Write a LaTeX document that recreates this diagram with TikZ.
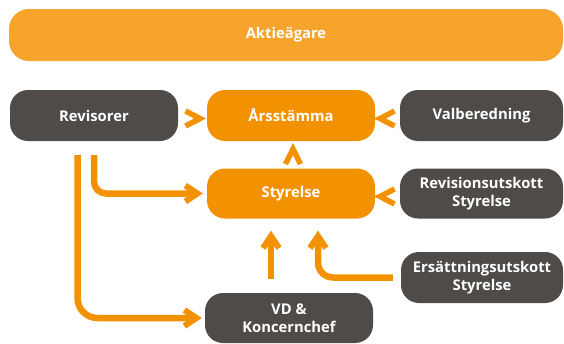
\documentclass[tikz,border=0pt]{standalone}
\usepackage{fontspec}
\setmainfont{Open Sans}
\usetikzlibrary{arrows.meta}
\definecolor{barorange}{HTML}{F6A42C}
\definecolor{boxorange}{HTML}{F39200}
\definecolor{boxgray}{HTML}{4E4B48}
\tikzset{
  boxbase/.style={rectangle, rounded corners=18pt, text=white, font=\fontsize{14.8}{18}\selectfont\bfseries, align=center, inner sep=0pt, minimum height=51pt},
  orangebox/.style={boxbase, fill=boxorange},
  graybox/.style={boxbase, fill=boxgray},
  arr/.style={draw=boxorange, line width=6.5pt, -{Straight Barb[length=12pt,width=16pt,line width=6pt]}},
  chev/.style={draw=boxorange, line width=5.5pt, miter limit=10}
}
\begin{document}
\begin{tikzpicture}[x=1pt,y=-1pt]
\useasboundingbox (0,0) rectangle (564,343);
\node[boxbase, fill=barorange, rounded corners=20pt, minimum width=554pt, minimum height=52pt] (akt) at (286,35) {Aktieägare};
\node[graybox, minimum width=168pt] (rev) at (94,115.5) {Revisorer};
\node[orangebox, minimum width=168pt] (ars) at (291,115.5) {Årsstämma};
\node[graybox, minimum width=163pt] (val) at (481.5,115.5) {Valberedning};
\node[orangebox, minimum width=168pt, minimum height=50pt] (sty) at (291,193.5) {Styrelse};
\node[graybox, minimum width=163pt, minimum height=50pt] (revu) at (481.5,193.5) {Revisionsutskott\\Styrelse};
\node[graybox, minimum width=162pt] (ers) at (482,277.5) {Ersättningsutskott\\Styrelse};
\node[graybox, minimum width=168pt, minimum height=50pt] (vd) at (289,318) {VD \&\\Koncernchef};
% chevrons
\draw[chev] (185.5,111) -- (200,118.5) -- (185.5,126);
\draw[chev] (394.5,111) -- (380,118.5) -- (394.5,126);
\draw[chev] (394.5,189) -- (380,196.5) -- (394.5,204);
\draw[chev] (285.5,164) -- (293,149) -- (300.5,164);
% connectors
\draw[arr, rounded corners=12pt] ([yshift=-14pt]rev.south) |- ([xshift=-4pt]sty.west);
\draw[arr, rounded corners=20pt] ([xshift=-16.5pt,yshift=-14pt]rev.south) |- ([xshift=-3pt]vd.west);
\draw[arr] ([xshift=-18pt,yshift=14pt]vd.north) -- ([xshift=-20pt,yshift=-12pt]sty.south);
\draw[arr, rounded corners=15pt] ([xshift=-8pt]ers.west) -| ([xshift=27pt,yshift=-12pt]sty.south);
\end{tikzpicture}
\end{document}
